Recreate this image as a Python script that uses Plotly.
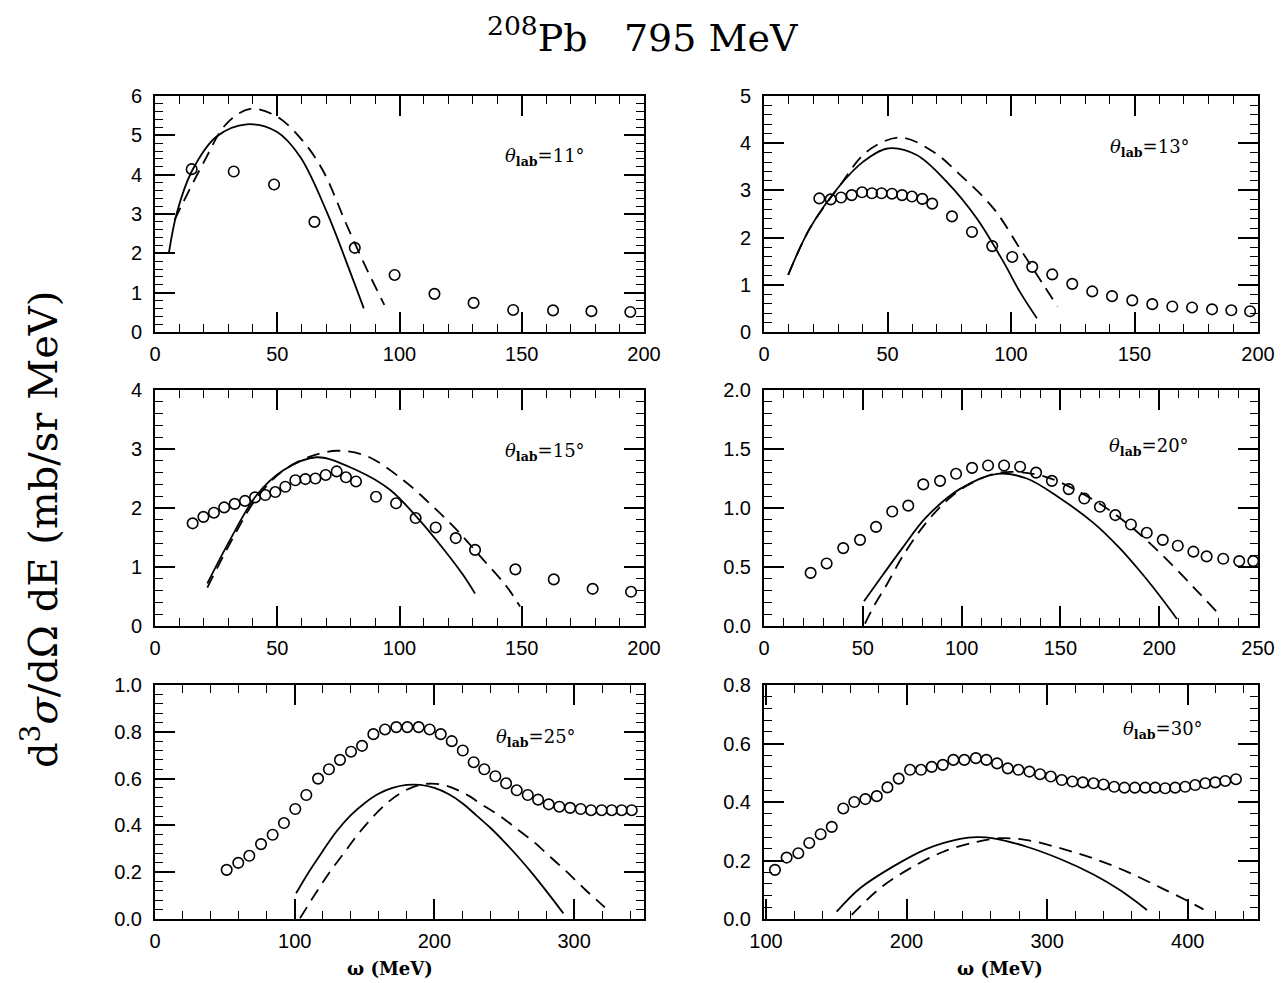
import plotly.graph_objects as go

# ---- 11 deg ----
d11_x = [15.0, 32.2, 48.7, 65.2, 81.7, 98.0, 114.3, 130.3, 146.5, 162.8, 178.5, 194.4]
d11_y = [4.14, 4.08, 3.75, 2.80, 2.14, 1.45, 0.97, 0.74, 0.56, 0.55, 0.53, 0.51]
s11_x = [5.7, 8.9, 15.0, 25.2, 37.5, 49.8, 59.3, 70.2, 79.8, 85.4]
s11_y = [2.02, 3.02, 4.08, 4.97, 5.28, 5.09, 4.46, 3.06, 1.53, 0.60]
h11_x = [8.0, 19.8, 29.3, 38.9, 49.8, 60.7, 68.9, 78.4, 86.6, 93.8]
h11_y = [2.85, 4.30, 5.30, 5.67, 5.48, 4.84, 4.08, 2.72, 1.60, 0.69]

# ---- 13 deg ----
d13_x = [22.4, 27.0, 31.2, 35.5, 39.7, 43.7, 47.6, 51.8, 55.9, 59.9, 64.1, 68.1, 76.1, 84.2,
         92.4, 100.5, 108.6, 116.7, 124.8, 132.9, 140.9, 149.1, 157.2, 165.3, 173.3, 181.4,
         189.2, 196.8]
d13_y = [2.83, 2.81, 2.85, 2.90, 2.96, 2.94, 2.94, 2.93, 2.90, 2.87, 2.82, 2.72, 2.45, 2.12,
         1.82, 1.59, 1.38, 1.22, 1.02, 0.86, 0.76, 0.67, 0.59, 0.54, 0.52, 0.48, 0.46, 0.44]
s13_x = [9.8, 18.6, 30.8, 40.2, 50.3, 61.8, 74.0, 86.1, 96.9, 103.6, 110.5]
s13_y = [1.21, 2.20, 3.11, 3.61, 3.89, 3.75, 3.18, 2.41, 1.49, 0.85, 0.29]
h13_x = [9.8, 18.6, 30.8, 41.6, 55.1, 68.5, 79.4, 92.9, 103.6, 113.1, 118.9]
h13_y = [1.21, 2.20, 3.11, 3.82, 4.12, 3.82, 3.33, 2.62, 1.77, 1.00, 0.54]

# ---- 15 deg ----
d15_x = [15.4, 19.8, 24.1, 28.3, 32.6, 36.8, 40.9, 45.1, 49.2, 53.3, 57.4, 61.5, 65.6, 69.8,
         74.3, 78.1, 82.2, 90.4, 98.6, 106.6, 114.8, 123.0, 130.9, 147.4, 163.1, 179.0, 194.7]
d15_y = [1.74, 1.85, 1.92, 2.01, 2.07, 2.12, 2.18, 2.22, 2.27, 2.36, 2.47, 2.49, 2.50, 2.56,
         2.62, 2.52, 2.45, 2.19, 2.08, 1.83, 1.67, 1.49, 1.29, 0.96, 0.79, 0.63, 0.58]
s15_x = [21.4, 30.7, 41.6, 52.5, 66.1, 82.5, 96.1, 107.0, 117.9, 126.1, 130.9]
s15_y = [0.72, 1.46, 2.22, 2.64, 2.86, 2.64, 2.31, 1.85, 1.31, 0.86, 0.55]
h15_x = [21.4, 30.7, 41.6, 52.0, 62.0, 74.3, 86.6, 101.6, 113.8, 123.4, 134.3, 143.8, 149.3]
h15_y = [0.65, 1.40, 2.17, 2.62, 2.85, 2.97, 2.88, 2.47, 2.02, 1.63, 1.12, 0.67, 0.33]

# ---- 20 deg ----
d20_x = [23.6, 31.7, 40.1, 48.6, 56.7, 64.9, 73.0, 80.6, 89.1, 97.2, 105.3, 113.4, 121.5,
         129.6, 137.7, 145.7, 154.2, 162.1, 170.0, 177.8, 185.7, 193.7, 201.8, 209.4, 217.3,
         224.0, 232.4, 240.5, 247.6]
d20_y = [0.45, 0.53, 0.66, 0.73, 0.84, 0.97, 1.02, 1.20, 1.23, 1.29, 1.34, 1.36, 1.36,
         1.35, 1.30, 1.23, 1.16, 1.08, 1.01, 0.94, 0.86, 0.79, 0.73, 0.68, 0.63,
         0.59, 0.57, 0.55, 0.55]
s20_x = [50.6, 60.0, 70.0, 82.0, 99.0, 118.0, 133.0, 150.0, 167.0, 180.0, 192.0, 201.0, 209.0]
s20_y = [0.21, 0.43, 0.66, 0.92, 1.16, 1.29, 1.25, 1.08, 0.87, 0.66, 0.43, 0.24, 0.06]
h20_x = [51.1, 56.0, 62.1, 70.5, 82.3, 95.0, 106.0, 119.4, 141.3, 166.6, 183.6, 200.4, 217.3, 229.1]
h20_y = [0.02, 0.18, 0.35, 0.60, 0.88, 1.10, 1.22, 1.30, 1.27, 1.07, 0.87, 0.62, 0.33, 0.12]

# ---- 25 deg ----
d25_x = [51.3, 59.6, 67.5, 75.9, 84.2, 92.3, 100.4, 108.3, 116.7, 124.5, 132.4, 140.3, 148.2,
         156.3, 164.6, 172.7, 180.6, 188.7, 196.6, 204.5, 212.4, 220.3, 228.1, 235.7, 243.6,
         251.3, 258.9, 266.8, 274.2, 281.8, 289.4, 297.1, 304.7, 312.1, 319.7, 326.9, 334.0, 341.2]
d25_y = [0.21, 0.24, 0.27, 0.32, 0.36, 0.41, 0.47, 0.53, 0.60, 0.64, 0.68, 0.715, 0.74,
         0.79, 0.81, 0.82, 0.82, 0.82, 0.81, 0.79, 0.76, 0.72, 0.67, 0.64, 0.61,
         0.58, 0.55, 0.53, 0.51, 0.49, 0.48, 0.475, 0.47, 0.465, 0.465, 0.465, 0.465, 0.465]
s25_x = [101.0, 110.0, 120.0, 130.0, 140.0, 150.0, 160.0, 170.0, 180.0, 190.0, 200.0,
         210.0, 220.0, 230.0, 240.0, 250.0, 260.0, 270.0, 280.0, 292.3]
s25_y = [0.11, 0.20, 0.29, 0.375, 0.443, 0.495, 0.535, 0.560, 0.573, 0.573, 0.560,
         0.534, 0.495, 0.443, 0.390, 0.330, 0.265, 0.195, 0.120, 0.024]
h25_x = [103.8, 115.0, 125.0, 135.0, 145.0, 155.0, 165.0, 175.0, 185.0, 195.0, 205.0,
         215.0, 225.0, 235.0, 247.0, 260.0, 271.0, 283.0, 295.0, 308.0, 322.0]
h25_y = [0.003, 0.11, 0.20, 0.28, 0.36, 0.43, 0.49, 0.535, 0.565, 0.578, 0.575,
         0.555, 0.525, 0.485, 0.44, 0.38, 0.33, 0.265, 0.20, 0.125, 0.05]

# ---- 30 deg ----
d30_x = [106.4, 114.7, 123.0, 130.8, 138.9, 146.8, 155.0, 162.8, 170.7, 178.8, 186.4, 194.4,
         202.5, 210.3, 217.9, 225.8, 233.3, 241.1, 249.3, 256.8, 264.4, 272.0, 279.6, 287.4,
         295.0, 302.6, 310.4, 318.0, 325.4, 333.0, 340.1, 347.7, 355.0, 362.4, 369.8, 376.9,
         384.0, 391.1, 398.2, 405.3, 412.5, 419.6, 426.7, 434.3]
d30_y = [0.168, 0.21, 0.225, 0.26, 0.29, 0.315, 0.378, 0.40, 0.41, 0.42, 0.45, 0.48,
         0.51, 0.51, 0.52, 0.527, 0.544, 0.544, 0.55, 0.544, 0.532, 0.515, 0.51, 0.504,
         0.495, 0.487, 0.475, 0.47, 0.467, 0.464, 0.46, 0.452, 0.449, 0.449, 0.449, 0.449,
         0.447, 0.449, 0.452, 0.458, 0.464, 0.467, 0.472, 0.478]
s30_x = [150.3, 166.9, 190.6, 214.4, 238.1, 250.0, 261.8, 285.5, 309.3, 333.0, 352.0, 371.0]
s30_y = [0.025, 0.105, 0.18, 0.24, 0.274, 0.28, 0.276, 0.247, 0.205, 0.152, 0.098, 0.031]
h30_x = [161.0, 181.1, 202.5, 226.2, 250.0, 266.5, 285.5, 309.3, 333.0, 356.7, 380.4, 399.4, 411.2]
h30_y = [0.014, 0.105, 0.173, 0.23, 0.264, 0.276, 0.27, 0.242, 0.207, 0.162, 0.108, 0.063, 0.033]

angles = ["11", "13", "15", "20", "25", "30"]
data_x = [d11_x, d13_x, d15_x, d20_x, d25_x, d30_x]
data_y = [d11_y, d13_y, d15_y, d20_y, d25_y, d30_y]
solid_x = [s11_x, s13_x, s15_x, s20_x, s25_x, s30_x]
solid_y = [s11_y, s13_y, s15_y, s20_y, s25_y, s30_y]
dash_x = [h11_x, h13_x, h15_x, h20_x, h25_x, h30_x]
dash_y = [h11_y, h13_y, h15_y, h20_y, h25_y, h30_y]

# axis settings per panel
x_ranges = [[0, 200], [0, 200], [0, 200], [0, 250], [0, 350], [98.6, 450]]
x_major = [50, 50, 50, 50, 100, 100]
x_minor = [10, 10, 10, 10, 20, 20]
y_ranges = [[0, 6], [0, 5], [0, 4], [0, 2], [0, 1], [0, 0.8]]
y_major = [1, 1, 1, 0.5, 0.2, 0.2]
y_minor = [0.2, 0.2, 0.2, 0.1, 0.04, 0.04]
y_fmt = ["d", "d", "d", ".1f", ".1f", ".1f"]

W, H = 1283, 983
col_px = [(155, 644), (764, 1258)]
row_px = [(96, 332), (390, 626), (685, 919)]
label_px = [(545, 157), (1150, 148), (545, 452), (1149, 447), (536, 738), (1163, 730)]

fig = go.Figure()
axis_font = dict(family="Liberation Sans, Arial", size=20, color="black")
serif = "DejaVu Serif"


def note(x, y, text, size, **kw):
    fig.add_annotation(x=x / W, y=1 - y / H, xref="paper", yref="paper", showarrow=False,
                       xanchor="center", yanchor="middle", text=text,
                       font=dict(family=serif, size=size, color="black"), **kw)


for i in range(6):
    r, c = divmod(i, 2)
    xa = "x" if i == 0 else f"x{i+1}"
    ya = "y" if i == 0 else f"y{i+1}"
    fig.add_trace(go.Scatter(x=solid_x[i], y=solid_y[i], mode="lines", xaxis=xa, yaxis=ya,
                             line=dict(color="black", width=1.8, shape="spline", smoothing=1.0),
                             showlegend=False))
    fig.add_trace(go.Scatter(x=dash_x[i], y=dash_y[i], mode="lines", xaxis=xa, yaxis=ya,
                             line=dict(color="black", width=1.8, dash="13px,8px",
                                       shape="spline", smoothing=1.0),
                             showlegend=False))
    fig.add_trace(go.Scatter(x=data_x[i], y=data_y[i], mode="markers", xaxis=xa, yaxis=ya,
                             marker=dict(symbol="circle-open", size=10.5, color="black",
                                         line=dict(width=1.6, color="black")),
                             showlegend=False, cliponaxis=False))
    x0, x1 = col_px[c]
    y0, y1 = row_px[r]
    common = dict(showline=True, linecolor="black", linewidth=2, mirror="ticks",
                  ticks="inside", ticklen=20, tickwidth=1.5, tickcolor="black",
                  showgrid=False, zeroline=False, tickfont=axis_font, automargin=False)
    xkey = "xaxis" if i == 0 else f"xaxis{i+1}"
    ykey = "yaxis" if i == 0 else f"yaxis{i+1}"
    fig.update_layout({
        xkey: dict(domain=[x0 / W, x1 / W], anchor=ya, range=x_ranges[i],
                   tick0=0, dtick=x_major[i],
                   minor=dict(ticks="inside", ticklen=8, tickwidth=1.3, tickcolor="black",
                              tick0=0, dtick=x_minor[i], showgrid=False),
                   ticklabelstandoff=3, **common),
        ykey: dict(domain=[1 - y1 / H, 1 - y0 / H], anchor=xa, range=y_ranges[i],
                   tick0=0, dtick=y_major[i], tickformat=y_fmt[i],
                   minor=dict(ticks="inside", ticklen=8, tickwidth=1.3, tickcolor="black",
                              tick0=0, dtick=y_minor[i], showgrid=False),
                   ticklabelstandoff=7, **common),
    })
    lx, ly = label_px[i]
    note(lx, ly, f"<i>θ</i><sub><b>lab</b></sub>={angles[i]}°", 18)

note(642, 35, "<sup>208</sup>Pb&nbsp;&nbsp;&nbsp;795 MeV", 38)
note(40, 530, "d<sup>3</sup><i>σ</i>/dΩ dE (mb/sr MeV)", 40, textangle=-90)
for cx in (390, 1000):
    note(cx, 968, "<b>ω (MeV)</b>", 18)

fig.update_layout(width=W, height=H, margin=dict(l=0, r=0, t=0, b=0),
                  paper_bgcolor="white", plot_bgcolor="white")
fig.write_html("out.html")
